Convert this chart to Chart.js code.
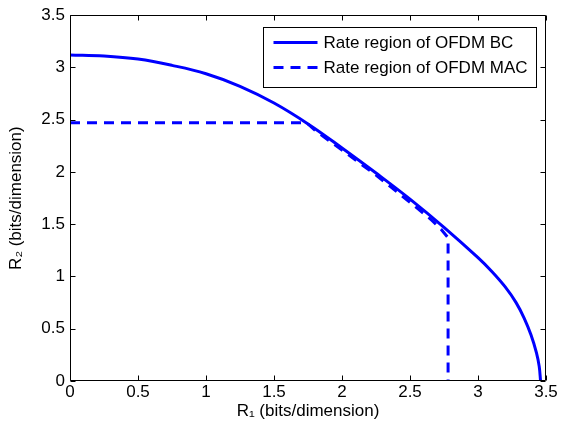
<!DOCTYPE html>
<html><head><meta charset="utf-8">
<script src="https://cdn.jsdelivr.net/npm/chart.js@4/dist/chart.umd.min.js"></script>
<style>html,body{margin:0;padding:0;background:#fff}canvas{display:block}</style>
</head><body>
<canvas id="c" width="561" height="428"></canvas>
<script>
// Rate region of OFDM BC (solid)
const bcR1 = [0, 0.25, 0.5, 0.75, 1.0, 1.25, 1.5, 1.75, 2.0, 2.25, 2.5, 2.75, 3.0, 3.1, 3.2, 3.28, 3.34, 3.39, 3.43, 3.45, 3.46];
const bcR2 = [3.12, 3.11, 3.08, 3.02, 2.94, 2.82, 2.66, 2.46, 2.23, 1.99, 1.74, 1.47, 1.18, 1.05, 0.90, 0.75, 0.60, 0.44, 0.27, 0.14, 0];
// Rate region of OFDM MAC (dashed)
const macR1 = [0, 1.74, 1.8, 2.0, 2.25, 2.5, 2.65, 2.73, 2.78, 2.78];
const macR2 = [2.47, 2.47, 2.40, 2.21, 1.97, 1.71, 1.55, 1.45, 1.37, 0];
const seriesNames = ['Rate region of OFDM BC', 'Rate region of OFDM MAC'];
const xTicks = [0, 0.5, 1, 1.5, 2, 2.5, 3, 3.5];
const yTicks = [0, 0.5, 1, 1.5, 2, 2.5, 3, 3.5];
const xTitle = 'R\u2081 (bits/dimension)';
const yTitle = 'R\u2082 (bits/dimension)';

const FONT = 'Liberation Sans, Arial, Helvetica, sans-serif';
const toPts = (xs, ys) => xs.map((x, i) => ({x: x, y: ys[i]}));

const frame = {
  id: 'frame',
  afterDatasetsDraw(chart) {
    const {ctx, chartArea: a, scales} = chart;
    ctx.save();
    ctx.strokeStyle = '#000';
    ctx.lineWidth = 1;
    ctx.beginPath();
    const L = Math.round(a.left) + 0.5, R = Math.round(a.right) - 0.5;
    const T = Math.round(a.top) + 0.5, B = Math.round(a.bottom) - 0.5;
    ctx.rect(L, T, R - L, B - T);
    const tl = 5;
    xTicks.forEach(v => {
      const px = Math.round(scales.x.getPixelForValue(v)) + 0.5;
      ctx.moveTo(px, B); ctx.lineTo(px, B - tl);
      ctx.moveTo(px, T); ctx.lineTo(px, T + tl);
    });
    yTicks.forEach(v => {
      const py = Math.round(scales.y.getPixelForValue(v)) + 0.5;
      ctx.moveTo(L, py); ctx.lineTo(L + tl, py);
      ctx.moveTo(R, py); ctx.lineTo(R - tl, py);
    });
    ctx.stroke();

    // legend
    const bw = 273, bh = 60;
    const bx = Math.round(a.right - 10 - bw) + 0.5, by = Math.round(a.top + 12) + 0.5;
    ctx.fillStyle = '#fff';
    ctx.fillRect(bx, by, bw, bh);
    ctx.strokeRect(bx, by, bw, bh);
    ctx.font = '17px ' + FONT;
    ctx.textBaseline = 'middle';
    ctx.textAlign = 'left';
    chart.data.datasets.forEach((ds, i) => {
      const cy = by + 15 + i * 25;
      ctx.save();
      ctx.strokeStyle = ds.borderColor;
      ctx.lineWidth = ds.borderWidth;
      ctx.setLineDash(ds.borderDash || []);
      ctx.beginPath();
      ctx.moveTo(bx + 10, cy); ctx.lineTo(bx + 54, cy);
      ctx.stroke();
      ctx.restore();
      ctx.fillStyle = '#000';
      ctx.fillText(ds.label, bx + 60, cy + 1);
    });
    ctx.restore();
  }
};

new Chart(document.getElementById('c'), {
  type: 'line',
  data: {
    datasets: [
      {label: seriesNames[0], data: toPts(bcR1, bcR2), borderColor: '#0000ff', borderWidth: 3,
       pointRadius: 0, fill: false, tension: 0.4},
      {label: seriesNames[1], data: toPts(macR1, macR2), borderColor: '#0000ff', borderWidth: 3,
       borderDash: [10, 7], pointRadius: 0, fill: false, tension: 0}
    ]
  },
  options: {
    responsive: false,
    animation: false,
    devicePixelRatio: 1,
    layout: {padding: {top: 11, right: 15, left: 0, bottom: 0}},
    plugins: {legend: {display: false}, tooltip: {enabled: false}},
    scales: {
      x: {
        type: 'linear', min: 0, max: 3.5,
        afterBuildTicks: s => { s.ticks = xTicks.map(v => ({value: v})); },
        afterFit: s => { s.height = 47; },
        grid: {display: false, drawTicks: false, tickLength: 0},
        border: {display: false},
        ticks: {color: '#000', font: {family: FONT, size: 17}, padding: 1, maxRotation: 0,
                callback: v => String(v)},
        title: {display: true, text: xTitle, color: '#000', font: {family: FONT, size: 17},
                padding: {top: 0, bottom: 6}}
      },
      y: {
        type: 'linear', min: 0, max: 3.5,
        afterBuildTicks: s => { s.ticks = yTicks.map(v => ({value: v})); },
        afterFit: s => { s.width = 70; },
        grid: {display: false, drawTicks: false, tickLength: 0},
        border: {display: false},
        ticks: {color: '#000', font: {family: FONT, size: 17}, padding: 5,
                callback: v => String(v)},
        title: {display: true, text: yTitle, color: '#000', font: {family: FONT, size: 17},
                padding: {top: 6, bottom: 0}}
      }
    }
  },
  plugins: [frame]
});
</script>
</body></html>
